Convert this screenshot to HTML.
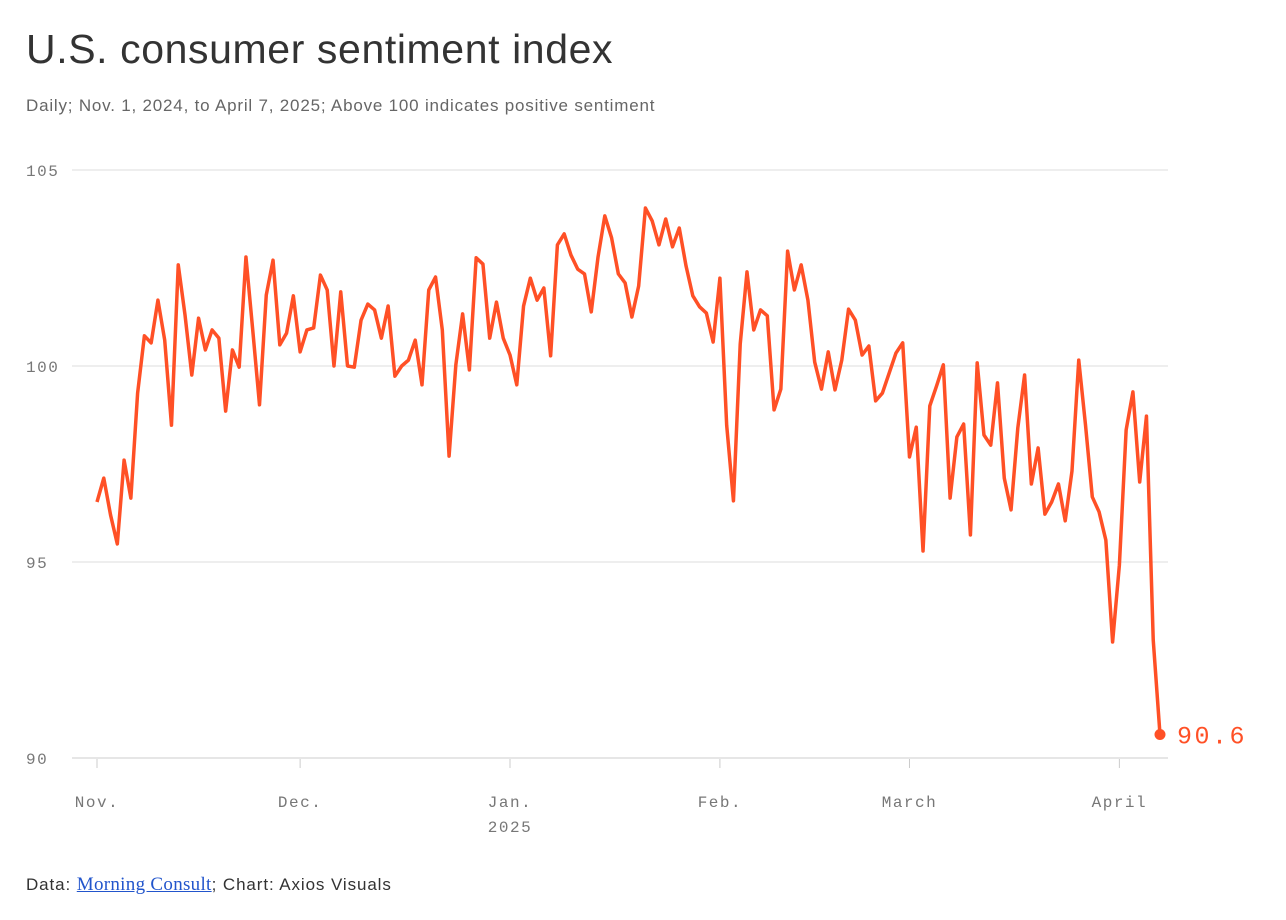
<!DOCTYPE html>
<html><head><meta charset="utf-8"><style>
body{margin:0;background:#fff;width:1286px;height:920px;overflow:hidden;font-family:"Liberation Sans",sans-serif}
h1{position:absolute;left:26px;top:26px;margin:0;font-size:41px;font-weight:400;color:#333;letter-spacing:0.6px}
.sub{position:absolute;left:26px;top:96px;font-size:17px;color:#666;letter-spacing:0.8px}
.foot{position:absolute;left:26px;top:874px;font-size:17px;color:#333;letter-spacing:0.9px}
.foot a{font-family:"Liberation Serif",serif;color:#2255cc;text-decoration:underline;font-size:19px;letter-spacing:0.3px}
svg{position:absolute;left:0;top:0}
</style></head><body>
<h1>U.S. consumer sentiment index</h1>
<div class="sub">Daily; Nov. 1, 2024, to April 7, 2025; Above 100 indicates positive sentiment</div>
<svg id="chart" width="1286" height="920"></svg>
<div class="foot">Data: <a>Morning Consult</a>; Chart: Axios Visuals</div>
<script>
const values=[96.53,97.14,96.20,95.46,97.60,96.63,99.31,100.77,100.59,101.68,
100.66,98.49,102.58,101.30,99.77,101.22,100.41,100.92,100.71,98.85,
100.41,99.97,102.78,100.92,99.01,101.81,102.70,100.54,100.84,101.79,
100.36,100.92,100.97,102.32,101.94,100.0,101.89,100.0,99.97,101.17,
101.58,101.43,100.71,101.53,99.74,100.0,100.15,100.66,99.52,101.94,
102.27,100.92,97.70,100.03,101.33,99.90,102.76,102.60,100.71,101.63,
100.71,100.28,99.52,101.53,102.24,101.68,101.99,100.26,103.09,103.37,
102.83,102.47,102.35,101.38,102.78,103.83,103.27,102.35,102.12,101.25,
102.04,104.03,103.70,103.09,103.75,103.04,103.52,102.55,101.79,101.51,
101.35,100.61,102.24,98.49,96.56,100.56,102.40,100.92,101.43,101.28,
98.88,99.41,102.93,101.94,102.58,101.68,100.10,99.41,100.36,99.39,
100.15,101.45,101.17,100.28,100.51,99.11,99.31,99.82,100.33,100.59,
97.68,98.44,95.28,98.98,99.49,100.03,96.63,98.19,98.52,95.69,
100.08,98.24,97.98,99.57,97.14,96.33,98.42,99.77,96.99,97.91,
96.22,96.53,96.99,96.05,97.32,100.15,98.49,96.66,96.28,95.56,
92.96,94.92,98.37,99.34,97.04,98.72,93.01,90.6];
const yTicks=[90,95,100,105];
const xTickDays=[0,30,61,92,120,151];
const xTickLabels=["Nov.","Dec.","Jan.","Feb.","March","April"];
const NS="http://www.w3.org/2000/svg";
const svg=document.getElementById('chart');
const x=i=>97+i*(1063/157);
const y=v=>758-(v-90)*39.2;
function mk(t,a,txt){const e=document.createElementNS(NS,t);for(const k in a)e.setAttribute(k,a[k]);if(txt!==undefined)e.textContent=txt;svg.appendChild(e);return e;}
yTicks.forEach(v=>{
  const g=mk('line',{x1:72,x2:1168,y1:y(v),y2:y(v),stroke:v===90?'#ccc':'#ddd','stroke-width':1});
  
  
  const t=mk('text',{x:26,y:y(v)+6,'font-family':'Liberation Mono, monospace','font-size':16,'letter-spacing':1.5,fill:'#777'},String(v));
  
  
});
xTickDays.forEach((d,i)=>{
  const l=mk('line',{x1:x(d),x2:x(d),y1:759,y2:768,stroke:'#ccc','stroke-width':1});
  
  
  const t=mk('text',{x:x(d),y:807,'text-anchor':'middle','font-family':'Liberation Mono, monospace','font-size':16,'letter-spacing':1.5,fill:'#777'},xTickLabels[i]);
  
  
});
const yr=mk('text',{x:x(61),y:832,'text-anchor':'middle','font-family':'Liberation Mono, monospace','font-size':16,'letter-spacing':1.5,fill:'#777'},'2025');


const p=mk('polyline',{points:values.map((v,i)=>x(i)+','+y(v)).join(' '),fill:'none',stroke:'#ff5026','stroke-width':3.5,'stroke-linejoin':'round'});


const last=values.length-1;
const c=mk('circle',{cx:x(last),cy:y(values[last]),r:5.5,fill:'#ff5026'});


const lb=mk('text',{x:x(last)+17,y:y(values[last])+9,'font-family':'Liberation Mono, monospace','font-size':25,'letter-spacing':2.5,fill:'#ff5026'},values[last].toFixed(1));


</script>
</body></html>
